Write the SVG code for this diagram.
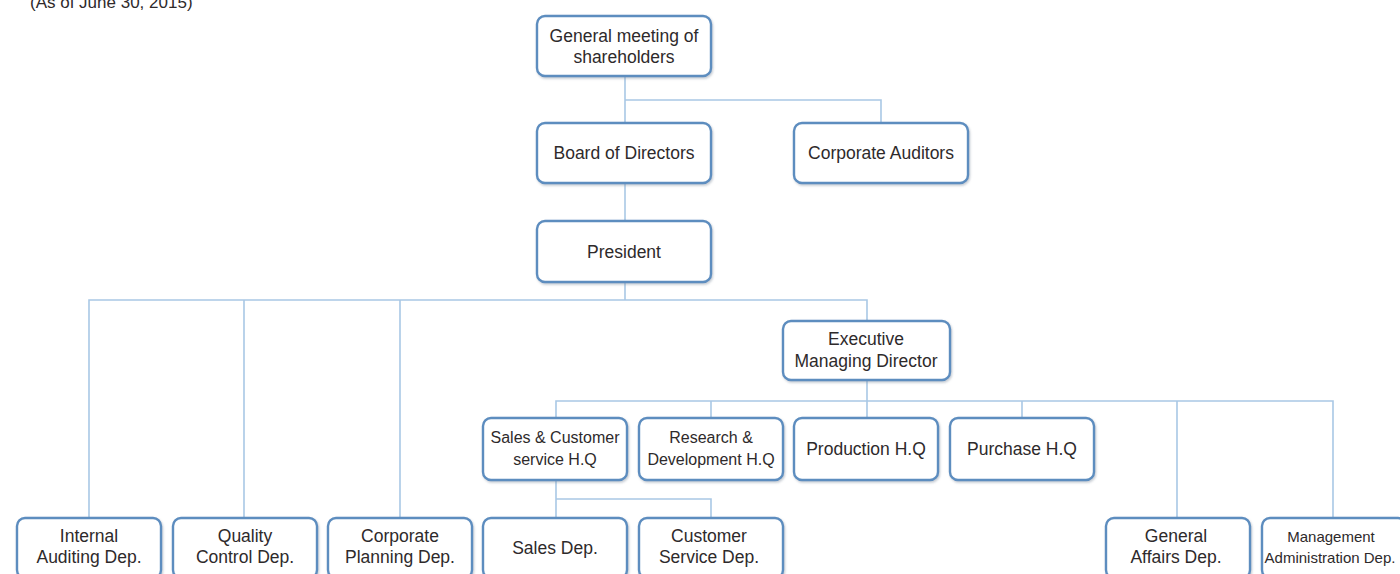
<svg xmlns="http://www.w3.org/2000/svg" width="1400" height="574" viewBox="0 0 1400 574">
  <style>
    .box { fill: #ffffff; stroke: #5d8dbf; stroke-width: 2.4; filter: url(#shadow); }
    .lbl { font-family: "Liberation Sans", Arial, sans-serif; font-size: 17.5px; fill: #2e2a2b; text-anchor: middle; }
    .sm { font-size: 16px; }
    .xs { font-size: 15px; }
    .link { fill: none; stroke: #a9c8e5; stroke-width: 1.6; }
  </style>
  <defs>
    <filter id="shadow" x="-10%" y="-20%" width="120%" height="140%">
      <feDropShadow dx="1" dy="1.5" stdDeviation="1.2" flood-color="#7d8a99" flood-opacity="0.45"/>
    </filter>
  </defs>
  <rect width="1400" height="574" fill="#ffffff"/>

  <text class="lbl" x="30" y="8" style="text-anchor:start;font-size:17px">(As of June 30, 2015)</text>

  <!-- connectors -->
  <g id="connectors">
    <path class="link" d="M625 76 V123 M625 100 H881 V123"/>
    <path class="link" d="M625 183 V221"/>
    <path class="link" d="M625 282 V300 M89 518 V300 H867 V321 M244 300 V518 M400 300 V518"/>
    <path class="link" d="M867 380 V401 M556 418 V401 H1333 V518 M711 401 V418 M867 401 V418 M1022 401 V418 M1177 401 V518"/>
    <path class="link" d="M556 480 V499 M556 518 V499 H711 V518"/>
  </g>

  <g id="general-meeting">
    <rect class="box" x="537" y="16" width="174" height="60" rx="8"/>
    <text class="lbl" x="624" y="42">General meeting of</text>
    <text class="lbl" x="624" y="63">shareholders</text>
  </g>
  <g id="board">
    <rect class="box" x="537" y="123" width="174" height="60" rx="8"/>
    <text class="lbl" x="624" y="159">Board of Directors</text>
  </g>
  <g id="auditors">
    <rect class="box" x="794" y="123" width="174" height="60" rx="8"/>
    <text class="lbl" x="881" y="159">Corporate Auditors</text>
  </g>
  <g id="president">
    <rect class="box" x="537" y="221" width="174" height="61" rx="8"/>
    <text class="lbl" x="624" y="258">President</text>
  </g>
  <g id="executive">
    <rect class="box" x="783" y="321" width="167" height="59" rx="8"/>
    <text class="lbl" x="866" y="345">Executive</text>
    <text class="lbl" x="866" y="367">Managing Director</text>
  </g>

  <g id="sales-hq">
    <rect class="box" x="483" y="418" width="144" height="62" rx="8"/>
    <text class="lbl sm" x="555" y="443">Sales &amp; Customer</text>
    <text class="lbl sm" x="555" y="465">service H.Q</text>
  </g>
  <g id="rd-hq">
    <rect class="box" x="639" y="418" width="144" height="62" rx="8"/>
    <text class="lbl sm" x="711" y="443">Research &amp;</text>
    <text class="lbl sm" x="711" y="465">Development H.Q</text>
  </g>
  <g id="production-hq">
    <rect class="box" x="794" y="418" width="144" height="62" rx="8"/>
    <text class="lbl" x="866" y="455">Production H.Q</text>
  </g>
  <g id="purchase-hq">
    <rect class="box" x="950" y="418" width="144" height="62" rx="8"/>
    <text class="lbl" x="1022" y="455">Purchase H.Q</text>
  </g>

  <g id="internal-auditing">
    <rect class="box" x="17" y="518" width="144" height="60" rx="8"/>
    <text class="lbl" x="89" y="542">Internal</text>
    <text class="lbl" x="89" y="563">Auditing Dep.</text>
  </g>
  <g id="quality-control">
    <rect class="box" x="173" y="518" width="144" height="60" rx="8"/>
    <text class="lbl" x="245" y="542">Quality</text>
    <text class="lbl" x="245" y="563">Control Dep.</text>
  </g>
  <g id="corporate-planning">
    <rect class="box" x="328" y="518" width="144" height="60" rx="8"/>
    <text class="lbl" x="400" y="542">Corporate</text>
    <text class="lbl" x="400" y="563">Planning Dep.</text>
  </g>
  <g id="sales-dep">
    <rect class="box" x="483" y="518" width="144" height="60" rx="8"/>
    <text class="lbl" x="555" y="554">Sales Dep.</text>
  </g>
  <g id="customer-service-dep">
    <rect class="box" x="639" y="518" width="144" height="60" rx="8"/>
    <text class="lbl" x="709" y="542">Customer</text>
    <text class="lbl" x="709" y="563">Service Dep.</text>
  </g>
  <g id="general-affairs">
    <rect class="box" x="1106" y="518" width="144" height="60" rx="8"/>
    <text class="lbl" x="1176" y="542">General</text>
    <text class="lbl" x="1176" y="563">Affairs Dep.</text>
  </g>
  <g id="management-admin">
    <rect class="box" x="1262" y="518" width="144" height="60" rx="8"/>
    <text class="lbl xs" x="1331" y="542">Management</text>
    <text class="lbl xs" x="1330" y="563">Administration Dep.</text>
  </g>
</svg>
